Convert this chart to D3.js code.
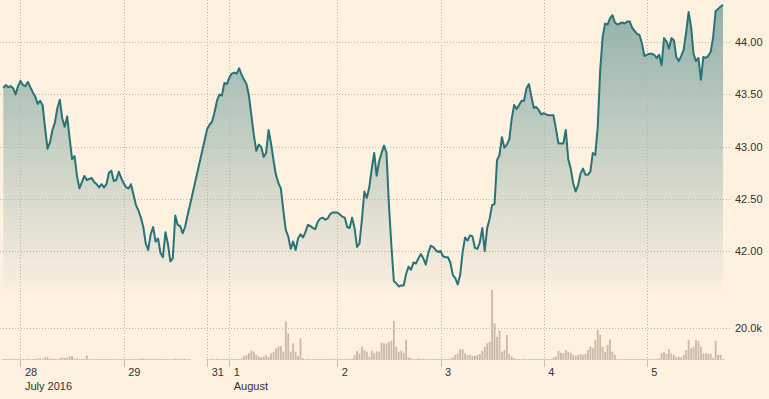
<!DOCTYPE html>
<html><head><meta charset="utf-8">
<script src="https://cdn.jsdelivr.net/npm/d3@7"></script>
<style>
html,body{margin:0;padding:0;background:#fff1e0;}
svg{display:block;}
text{font-family:"Liberation Sans",Arial,sans-serif;font-size:11px;fill:#333;}
</style></head><body>
<svg id="chart" width="769" height="399"></svg>
<script>
// ---- data (30-min trading slots) ----
const pricesJul27 = [43.56,43.59,43.57,43.58,43.56,43.50,43.58];
const pricesJul28 = [43.63,43.59,43.58,43.62,43.57,43.52,43.48,43.41,43.44,43.40,43.18,42.98,43.04,43.16,43.23,43.37,43.45,43.27,43.19,43.29,43.08,42.88,42.91,42.72,42.60,42.66,42.72,42.68,42.69,42.70,42.66,42.64,42.61,42.64,42.61,42.64,42.75,42.77,42.67,42.68,42.76,42.70];
const pricesJul29 = [42.65,42.61,42.60,42.64,42.54,42.44,42.39,42.32,42.23,42.07,42.01,42.16,42.23,42.09,42.12,41.98,41.94,42.18,42.07,41.90,41.93,42.34,42.25,42.24,42.17,42.23,42.34,42.44];
const pricesJul31 = [43.17,43.21,43.24,43.33,43.44,43.50,43.49,43.61,43.60];
const pricesAug1 = [43.66,43.70,43.71,43.70,43.75,43.69,43.64,43.60,43.49,43.30,43.11,42.96,43.02,43.00,42.90,42.94,43.16,43.03,42.87,42.73,42.65,42.60,42.39,42.20,42.14,42.02,42.09,42.01,42.12,42.16,42.13,42.18,42.25,42.24,42.22,42.21,42.28,42.31,42.32,42.30,42.31,42.35,42.37,42.37];
const pricesAug2 = [42.37,42.35,42.33,42.32,42.23,42.22,42.32,42.22,42.04,42.07,42.30,42.57,42.51,42.61,42.79,42.94,42.72,42.86,42.94,43.01,42.94,42.44,42.05,41.71,41.69,41.66,41.67,41.67,41.78,41.85,41.82,41.89,41.88,41.93,41.97,41.93,41.87,41.98,42.05,42.04,42.01,41.99];
const pricesAug3 = [42.00,41.95,41.94,41.94,41.89,41.77,41.74,41.68,41.77,41.99,42.13,42.10,42.15,42.14,42.03,42.02,42.08,42.22,42.00,42.22,42.31,42.44,42.45,42.87,42.92,43.09,42.99,43.02,43.07,43.27,43.40,43.36,43.40,43.44,43.44,43.56,43.60,43.48,43.37,43.38,43.35,43.31];
const pricesAug4 = [43.32,43.31,43.30,43.30,43.30,43.17,43.03,43.03,43.03,43.16,42.88,42.79,42.65,42.57,42.63,42.74,42.79,42.73,42.73,42.76,42.94,42.92,43.19,43.73,44.05,44.18,44.17,44.23,44.26,44.19,44.17,44.18,44.19,44.18,44.20,44.20,44.14,44.11,44.08,44.07,43.99,43.87];
const pricesAug5 = [43.88,43.89,43.89,43.88,43.85,43.88,43.78,44.04,44.01,43.94,44.04,44.02,43.86,43.82,43.87,43.93,44.10,44.29,44.15,43.89,43.82,43.85,43.64,43.86,43.85,43.87,43.91,44.05,44.30,44.32,44.34,44.36];

// volumes in thousands
const volJul27 = [0.3,0.3,0.3,0.3,0.3,0.3,0.3];
const volJul28 = [0.3,0.3,0.3,0.3,0.3,0.3,0.5,1.0,1.0,0.4,1.7,1.9,0.7,0.8,0.5,0.5,1.3,1.5,1.4,1.5,2.2,2.5,0.9,0.8,0.3,0.3,0.3,2.8,0.3,0.3,0.3,0.3,0.3,0.3,0.3,0.3,0.3,0.3,0.3,0.3,0.3,0.3];
const volJul29 = [0.3,0.3,0.3,0.3,0.3,0.3,0.3,0.8,0.9,0.6,0.4,0.4,0.4,0.4,0.4,0.4,0.4,0.4,0.4,0.4,0.4,0.9,0.8,0.4,0.4,0.4,0.4,0.4];
const volJul31 = [0.3,0.3,0.3,0.3,0.8,0.6,0.3,0.3,0.3];
const volAug1 = [0.3,0.3,0.3,0.3,0.4,1.1,2.5,3.2,4.4,5.9,5.2,3.2,2.2,1.7,2.1,3.2,2.1,4.2,5.2,7.4,8.4,8.8,5.2,24.2,16.8,5.2,10.5,5.2,2.5,13.7,1.1,0.6,0.3,0.3,0.3,0.3,0.3,0.3,0.3,0.3,0.3,0.3,0.3,0.3];
const volAug2 = [0.4,0.4,0.4,0.6,0.6,0.6,0.8,3.2,5.9,4.2,8.4,6.3,5.2,2.1,5.9,4.2,5.5,5.2,10.9,10.5,10.5,11.5,12.2,24.6,8.4,5.2,5.9,4.6,12.6,1.7,1.1,0.4,0.6,1.1,0.4,0.3,0.3,0.3,0.3,0.3,0.3,0.3];
const volAug3 = [0.4,0.4,0.4,0.4,0.6,1.7,3.2,4.2,6.8,6.8,4.2,3.2,3.2,2.5,2.5,3.2,3.8,5.9,8.4,10.5,11.5,44.2,23.2,14.7,18.5,5.2,6.3,15.8,3.8,2.1,1.1,0.4,0.4,0.4,0.4,0.4,0.4,0.4,0.4,0.4,0.4,0.4];
const volAug4 = [0.3,0.3,0.4,0.4,1.7,2.1,5.7,4.6,4.2,6.3,5.2,4.6,3.2,2.5,3.2,3.8,3.2,3.8,6.3,8.4,7.4,12.6,18.9,15.8,8.4,5.2,9.5,13.1,5.2,3.2,0.4,0.4,0.4,0.4,0.4,0.4,0.4,0.4,0.4,0.4,0.4,0.4];
const volAug5 = [0.3,0.2,0.4,0.4,0.6,1.1,4.2,5.2,3.8,6.8,4.2,3.2,1.7,2.1,1.7,3.2,6.3,12.6,7.4,8.4,12.6,11.8,8.4,4.2,4.2,3.8,3.8,1.1,12.0,3.2,3.2,0.4];

const sessionStarts = [0, 7, 49, 83, 92, 136, 178, 220, 262];
const sessionPrices = [pricesJul27, pricesJul28, pricesJul29, pricesJul31, pricesAug1, pricesAug2, pricesAug3, pricesAug4, pricesAug5];
const sessionVolumes = [volJul27, volJul28, volJul29, volJul31, volAug1, volAug2, volAug3, volAug4, volAug5];

const dayLabels = ["28","29","31","1","2","3","4","5"];
const dayTickSlots = [7, 49, 83, 92, 136, 178, 220, 262];
const monthLabels = ["July 2016", "August"];
const monthSlots = [7, 92];
const priceTicks = [42, 42.5, 43, 43.5, 44];
const volumeTicks = [20];

// ---- build ----
const points = [];
sessionStarts.forEach((s, k) => {
  sessionPrices[k].forEach((p, i) => points.push({slot: s + i, price: p, volume: sessionVolumes[k][i]}));
});

const svg = d3.select("#chart");
const x = d3.scaleLinear().domain([0, 293]).range([3.3, 723]);
const y = d3.scaleLinear().domain([42, 44]).range([251, 42.3]);
const yv = d3.scaleLinear().domain([0, 20]).range([360, 328.3]);
const areaBottom = 292;
const gridRight = 730;

svg.append("rect").attr("width", 769).attr("height", 399).attr("fill", "#fff1e0");

const defs = svg.append("defs");
const grad = defs.append("linearGradient").attr("id", "fillGrad")
  .attr("gradientUnits", "userSpaceOnUse").attr("x1", 0).attr("y1", 0).attr("x2", 0).attr("y2", 300);
grad.append("stop").attr("offset", 0).attr("stop-color", "#8fb0aa");
grad.append("stop").attr("offset", 1).attr("stop-color", "#fff1e0");

// area
svg.append("path").datum(points)
  .attr("d", d3.area().x(d => x(d.slot)).y0(areaBottom).y1(d => y(d.price)))
  .attr("fill", "url(#fillGrad)");

// grid
const gridColor = "#bfb4a8";
svg.append("g").selectAll("line").data(priceTicks).join("line")
  .attr("x1", 0).attr("x2", gridRight)
  .attr("y1", d => Math.round(y(d)) + 0.5).attr("y2", d => Math.round(y(d)) + 0.5)
  .attr("stroke", gridColor).attr("stroke-dasharray", "1,2");
svg.append("g").selectAll("line").data(volumeTicks).join("line")
  .attr("x1", 0).attr("x2", gridRight)
  .attr("y1", d => Math.round(yv(d)) + 0.5).attr("y2", d => Math.round(yv(d)) + 0.5)
  .attr("stroke", gridColor).attr("stroke-dasharray", "1,2");
svg.append("g").selectAll("line").data(dayTickSlots).join("line")
  .attr("x1", d => Math.round(x(d)) + 0.5).attr("x2", d => Math.round(x(d)) + 0.5)
  .attr("y1", 0).attr("y2", 360)
  .attr("stroke", gridColor).attr("stroke-dasharray", "1,2");
svg.append("g").selectAll("line").data(dayTickSlots).join("line")
  .attr("x1", d => Math.round(x(d)) + 0.5).attr("x2", d => Math.round(x(d)) + 0.5)
  .attr("y1", 360).attr("y2", 367)
  .attr("stroke", "#c6bbaf");

// volume bars
svg.append("g").selectAll("rect").data(points).join("rect")
  .attr("x", d => x(d.slot) - 0.9)
  .attr("width", 1.8)
  .attr("y", d => Math.min(yv(d.volume), 359))
  .attr("height", d => Math.max(1, 360 - yv(d.volume)))
  .attr("fill", "#c9b9a5");

// price line
svg.append("path").datum(points)
  .attr("d", d3.line().x(d => x(d.slot)).y(d => y(d.price)))
  .attr("fill", "none").attr("stroke", "#287378").attr("stroke-width", 2)
  .attr("stroke-linejoin", "round");

// y labels
svg.append("g").selectAll("text").data(priceTicks).join("text")
  .attr("x", 735).attr("y", d => y(d)).attr("dy", "0.35em")
  .text(d => d3.format(".2f")(d));
svg.append("g").selectAll("text").data(volumeTicks).join("text")
  .attr("x", 735).attr("y", d => yv(d)).attr("dy", "0.35em")
  .text(d => d3.format(".1f")(d) + "k");

// x labels
svg.append("g").selectAll("text").data(dayLabels).join("text")
  .attr("x", (d, i) => x(dayTickSlots[i]) + 4.5).attr("y", 376)
  .text(d => d);
svg.append("g").selectAll("text").data(monthLabels).join("text")
  .attr("x", (d, i) => x(monthSlots[i]) + 4.5).attr("y", 390)
  .text(d => d);
</script>
</body></html>
